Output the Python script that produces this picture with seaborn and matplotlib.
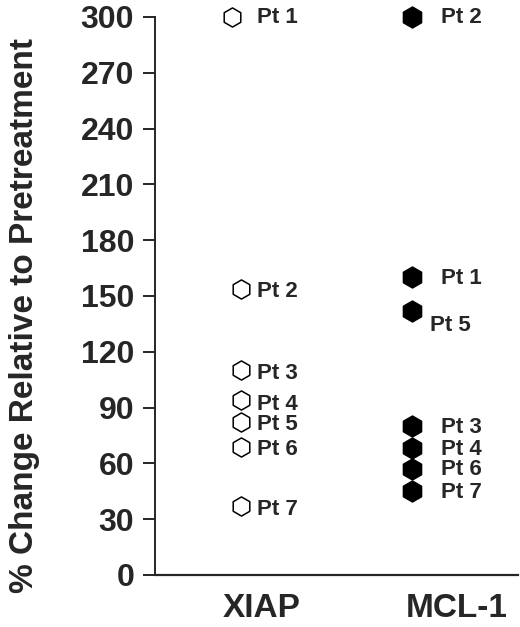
import matplotlib
matplotlib.use("Agg")
import matplotlib.pyplot as plt
import seaborn as sns
import pandas as pd

# values
patients = ["Pt 1", "Pt 2", "Pt 3", "Pt 4", "Pt 5", "Pt 6", "Pt 7"]
xiap = [300, 154, 110, 94, 82, 69, 37]
mcl1 = [160, 300, 80, 68, 142, 57, 45]
groups = ["XIAP", "MCL-1"]
yticks = list(range(0, 301, 30))

df = pd.DataFrame({
    "patient": patients * 2,
    "group": ["XIAP"] * 7 + ["MCL-1"] * 7,
    "value": xiap + mcl1,
})
df["x"] = df["group"].map({g: i for i, g in enumerate(groups)}).astype(float)
# small horizontal nudge for the overlapping point at the top
df.loc[(df.group == "XIAP") & (df.patient == "Pt 1"), "x"] -= 0.055

sns.set_style("ticks")
plt.rcParams["font.family"] = ["Liberation Sans", "DejaVu Sans"]
plt.rcParams["font.weight"] = "bold"

fig = plt.figure(figsize=(5.2, 6.27), dpi=100)
ax = fig.add_axes([0.298, 0.083, 0.698, 0.89])

sns.scatterplot(data=df[df.group == "XIAP"], x="x", y="value", ax=ax,
                marker="h", s=190, facecolor="white", edgecolor="black",
                linewidth=1.1, clip_on=False, zorder=3)
sns.scatterplot(data=df[df.group == "MCL-1"], x="x", y="value", ax=ax,
                marker="h", s=230, color="black", edgecolor="black",
                linewidth=1, clip_on=False, zorder=3)

# label offsets in pixels (dx, dy)
offsets = {"XIAP": (16, -3), "MCL-1": (29, -1)}
special = {("XIAP", "Pt 1"): (25, -1), ("XIAP", "Pt 4"): (16, -4),
           ("XIAP", "Pt 5"): (16, -2), ("MCL-1", "Pt 5"): (18, -15)}
for _, r in df.iterrows():
    dx, dy = special.get((r.group, r.patient), offsets[r.group])
    ax.annotate(r.patient, (r.x, r.value), xytext=(dx, dy),
                textcoords="offset pixels", ha="left", va="center",
                fontsize=16, fontweight="bold", annotation_clip=False)

ax.set_xlim(-0.503, 1.62)
ax.set_ylim(0, 300)
ax.set_yticks(yticks)
ax.set_yticklabels([str(t) for t in yticks], fontsize=23, fontweight="bold")
ax.set_xticks([0.123, 1.263])
ax.set_xticklabels(groups, fontsize=24, fontweight="bold")
ax.tick_params(axis="x", length=0, pad=13)
ax.tick_params(axis="y", length=9, width=1.4, pad=6)
ax.set_xlabel("")
ax.set_ylabel("% Change Relative to Pretreatment", fontsize=24,
              fontweight="bold")
ax.yaxis.set_label_coords(-0.318, 0.465)
for side in ["top", "right"]:
    ax.spines[side].set_visible(False)
ax.spines["left"].set_linewidth(1.4)
ax.spines["bottom"].set_linewidth(1.6)

fig.savefig("out.png", dpi=100)
